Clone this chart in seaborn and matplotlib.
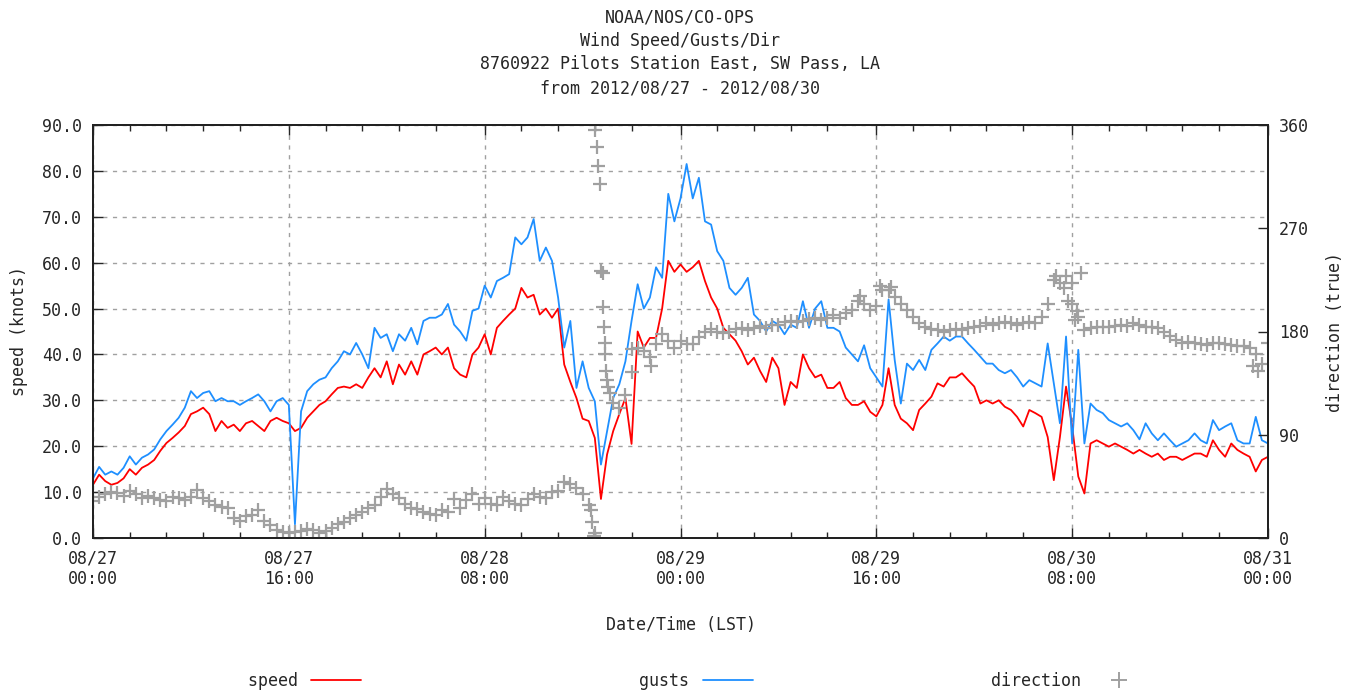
import numpy as np
import pandas as pd
import matplotlib
matplotlib.use("Agg")
import matplotlib.pyplot as plt
import matplotlib.dates as mdates
from matplotlib.lines import Line2D
import seaborn as sns

# ---------------- data (30-minute samples from 2012-08-27 00:00) ----------------
speed = [
    11.6, 13.8, 12.4, 11.6, 12.0, 13.0, 15.0, 13.8, 15.3, 16.0,
    17.0, 19.0, 20.7, 21.8, 23.0, 24.4, 27.0, 27.6, 28.4, 27.0,
    23.3, 25.5, 24.0, 24.7, 23.3, 25.0, 25.5, 24.4, 23.3, 25.5,
    26.2, 25.5, 25.0, 23.3, 24.0, 26.2, 27.6, 29.0, 29.8, 31.3,
    32.7, 33.0, 32.7, 33.5, 32.7, 35.0, 37.0, 35.0, 38.5, 33.5,
    37.8, 35.6, 38.5, 35.6, 40.0, 40.7, 41.5, 40.0, 41.5, 37.0,
    35.6, 35.0, 40.0, 41.5, 44.4, 40.0, 45.8, 47.3, 48.7, 50.0,
    54.5, 52.4, 53.0, 48.7, 50.0, 48.0, 50.0, 37.8, 34.0, 30.5,
    26.0, 25.5, 21.8, 8.5, 18.2, 23.3, 27.0, 30.5, 20.5, 45.0,
    41.5, 43.6, 43.6, 50.0, 60.4, 58.0, 59.6, 58.0, 59.0, 60.4,
    56.0, 52.4, 50.0, 45.8, 44.4, 43.0, 40.7, 37.8, 39.3, 36.4,
    34.0, 39.3, 37.0, 29.0, 34.0, 32.7, 40.0, 37.0, 35.0, 35.6,
    32.7, 32.7, 34.0, 30.5, 29.0, 29.0, 29.8, 27.5, 26.5, 29.0,
    37.0, 29.0, 26.0, 25.0, 23.5, 27.9, 29.3, 30.8, 33.7, 33.0,
    35.0, 35.0, 35.9, 34.4, 33.0, 29.3, 30.0, 29.3, 30.0, 28.6,
    27.9, 26.4, 24.3, 27.9, 27.2, 26.4, 22.0, 12.6, 22.0, 33.0,
    24.3, 13.4, 9.7, 20.6, 21.3, 20.6, 19.9, 20.6, 19.9, 19.2,
    18.4, 19.2, 18.4, 17.7, 18.4, 17.0, 17.7, 17.7, 17.0, 17.7,
    18.4, 18.4, 17.7, 21.3, 19.2, 17.7, 20.6, 19.2, 18.4, 17.7,
    14.5, 17.0, 17.7,
]

gusts = [
    13.0, 15.5, 13.8, 14.5, 13.8, 15.3, 17.8, 16.0, 17.5, 18.2,
    19.3, 21.5, 23.3, 24.7, 26.2, 28.4, 32.0, 30.5, 31.6, 32.0,
    29.8, 30.5, 29.8, 29.8, 29.0, 29.8, 30.5, 31.3, 29.8, 27.6,
    29.8, 30.5, 29.0, 3.0, 27.6, 32.0, 33.5, 34.5, 35.0, 37.0,
    38.5, 40.7, 40.0, 42.5, 40.0, 37.0, 45.8, 43.6, 44.4, 40.7,
    44.4, 43.0, 45.8, 42.2, 47.3, 48.0, 48.0, 48.7, 51.0, 46.5,
    45.0, 43.0, 49.5, 50.0, 55.0, 52.4, 56.0, 56.7, 57.5, 65.5,
    64.0, 65.5, 69.5, 60.4, 63.3, 60.4, 52.4, 41.5, 47.3, 32.7,
    38.5, 32.7, 29.8, 16.0, 23.3, 30.5, 33.5, 38.5, 47.3, 55.3,
    50.0, 52.4, 59.0, 56.7, 75.0, 69.0, 74.0, 81.5, 74.0, 78.5,
    69.0, 68.3, 62.5, 60.4, 54.5, 53.0, 54.5, 56.7, 48.7, 47.3,
    45.0, 47.3, 46.5, 44.4, 46.5, 45.8, 51.6, 45.8, 50.0, 51.6,
    45.8, 45.8, 45.0, 41.5, 40.0, 38.5, 42.0, 37.0, 35.0, 33.0,
    52.0, 38.8, 29.3, 38.0, 36.6, 38.8, 36.6, 41.0, 42.4, 43.9,
    43.0, 43.9, 43.9, 42.4, 41.0, 39.5, 38.0, 38.0, 36.6, 35.9,
    36.6, 35.0, 33.0, 34.4, 33.7, 33.0, 42.4, 33.7, 25.0, 43.9,
    20.6, 41.0, 20.6, 29.3, 27.9, 27.2, 25.7, 25.0, 24.3, 25.0,
    23.5, 21.5, 25.0, 22.8, 21.3, 22.8, 21.3, 19.9, 20.6, 21.3,
    22.8, 21.3, 20.6, 25.7, 23.5, 24.3, 25.0, 21.3, 20.6, 20.6,
    26.4, 21.3, 20.6,
]

direction = [
    32, 36, 38, 40, 39, 37, 41, 38, 35, 37,
    35, 33, 32, 36, 35, 33, 36, 42, 35, 32,
    29, 27, 26, 17, 15, 19, 20, 24, 15, 11,
    7, 5, 4, 5, 6, 8, 7, 4, 6, 9,
    12, 14, 17, 20, 23, 26, 29, 36, 43, 38,
    35, 30, 26, 25, 23, 21, 20, 24, 23, 34,
    26, 33, 38, 30, 35, 30, 29, 36, 32, 30,
    29, 34, 38, 36, 35, 40, 41, 49, 47, 44,
    38, 29, 4, 233, 138, 118, 113, 125, 145, 166,
    163, 158, 169, 178, 172, 166, 172, 169, 169, 175,
    180, 182, 180, 179, 180, 182, 183, 181, 183, 185,
    183, 186, 186, 188, 189, 188, 189, 191, 192, 190,
    192, 194, 192, 196, 199, 207, 204, 199, 202, 216,
    216, 210, 204, 199, 193, 187, 184, 182, 181, 180,
    181, 182, 181, 183, 184, 185, 187, 186, 187, 188,
    187, 186, 187, 188, 187, 193, 204, 225, 222, 228,
    204, 193, 181, 183, 184, 184, 184, 185, 186, 185,
    187, 186, 184, 184, 183, 180, 176, 173, 170, 171,
    170, 169, 168, 170, 170, 169, 168, 167, 167, 166,
    160, 152, 170,
]

# scattered direction readings between the half-hour samples (hours after start, degrees)
extra_dir_hours = [40.7, 40.8, 40.9, 41.05, 41.15, 41.25, 41.4, 41.65, 41.7, 41.75,
                   41.8, 41.85, 41.9, 42.1, 42.2, 44.0, 45.6, 62.7, 64.3, 65.2,
                   78.7, 79.3, 79.7, 80.0, 80.2, 80.4, 80.7, 94.8, 95.2]
extra_dir_values = [24, 14, 2, 356, 341, 324, 309, 231, 201, 184,
                    170, 160, 146, 132, 126, 165, 150, 211, 220, 219,
                    228, 218, 207, 222, 190, 198, 231, 150, 146]

x_tick_labels = ["08/27\n00:00", "08/27\n16:00", "08/28\n08:00", "08/29\n00:00",
                 "08/29\n16:00", "08/30\n08:00", "08/31\n00:00"]
speed_ticks = [0, 10, 20, 30, 40, 50, 60, 70, 80, 90]
dir_ticks = [0, 90, 180, 270, 360]

title_lines = ["NOAA/NOS/CO-OPS", "Wind Speed/Gusts/Dir",
               "8760922 Pilots Station East, SW Pass, LA",
               "from 2012/08/27 - 2012/08/30"]

# ---------------- build frames ----------------
start = pd.Timestamp("2012-08-27 00:00")
end = pd.Timestamp("2012-08-31 00:00")
df = pd.DataFrame({
    "time": pd.date_range(start, periods=len(speed), freq="30min"),
    "speed": speed,
    "gusts": gusts,
    "direction": direction,
})
extra = pd.DataFrame({
    "time": [start + pd.Timedelta(hours=h) for h in extra_dir_hours],
    "direction": extra_dir_values,
})
dir_all = pd.concat([df[["time", "direction"]], extra], ignore_index=True)

RED = "#ff0000"
BLUE = "#1e8fff"
GREY = "#a0a0a0"
FONT = ["DejaVu Sans Mono"]
FS = 12

sns.set_style("white")
plt.rcParams["font.family"] = FONT
plt.rcParams["font.size"] = FS

W, H = 1357, 694
fig = plt.figure(figsize=(W / 100, H / 100), dpi=100)
L, R, T, B = 93, 1268, 125, 538
ax = fig.add_axes([L / W, 1 - B / H, (R - L) / W, (B - T) / H])

sns.lineplot(data=df, x="time", y="speed", ax=ax, color=RED, lw=1.3,
             legend=False)
sns.lineplot(data=df, x="time", y="gusts", ax=ax, color=BLUE, lw=1.3,
             legend=False)

ax2 = ax.twinx()
sns.scatterplot(data=dir_all, x="time", y="direction", ax=ax2, marker="+",
                s=95, color=GREY, linewidth=1.6, legend=False)

# axes limits / ticks
ax.set_xlim(start, end)
ax.set_ylim(0, 90)
ax2.set_ylim(0, 360)

major = pd.date_range(start, end, freq="16h")
minor = []
for m in major[:-1]:
    for k in (3, 6, 9, 12):
        minor.append(m + pd.Timedelta(hours=k))
ax.set_xticks(mdates.date2num(major))
ax.set_xticklabels(x_tick_labels)
ax.set_xticks(mdates.date2num(minor), minor=True)

ax.set_yticks(speed_ticks)
ax.set_yticklabels([f"{v:.1f}" for v in speed_ticks])
ax2.set_yticks(dir_ticks)
ax2.set_yticklabels([str(v) for v in dir_ticks])

ax.tick_params(axis="x", which="major", direction="in", length=7, width=1,
               top=True, bottom=True, pad=8, labelsize=FS)
ax.tick_params(axis="x", which="minor", direction="in", length=4, width=1,
               top=True, bottom=True)
ax.tick_params(axis="y", which="major", direction="in", length=7, width=1,
               left=True, right=False, pad=8, labelsize=FS)
ax2.tick_params(axis="y", direction="in", length=7, width=1, right=True,
                pad=8, labelsize=FS)

ax.grid(True, which="major", color=GREY, linestyle=(0, (3, 4)), linewidth=1)
ax2.grid(False)

for a in (ax, ax2):
    for sp in a.spines.values():
        sp.set_color("#222222")
        sp.set_linewidth(1.4)
        sp.set_visible(True)

ax.set_xlabel("Date/Time (LST)", fontsize=FS, labelpad=20)
ax.set_ylabel("speed (knots)", fontsize=FS, labelpad=10)
ax2.set_ylabel("direction (true)", fontsize=FS, labelpad=12)

# title
for i, line in enumerate(title_lines):
    fig.text(680 / W, 1 - (17 + 23.7 * i) / H, line, ha="center", va="center",
             fontsize=FS, family=FONT)

# legend (gnuplot style: text before the sample, equal columns)
handles = [
    Line2D([], [], color=RED, lw=1.3),
    Line2D([], [], color=BLUE, lw=1.3),
    Line2D([], [], color=GREY, marker="+", linestyle="none", markersize=11,
           markeredgewidth=1.4),
]
labels = ["    speed", "    gusts", "direction"]
fig.legend(handles, labels, loc="center", bbox_to_anchor=(676 / W, 1 - 681 / H),
           ncol=3, frameon=False, markerfirst=False, handlelength=3.0,
           handletextpad=0.8, columnspacing=14.3, fontsize=FS)

fig.savefig("out.png", dpi=100)
